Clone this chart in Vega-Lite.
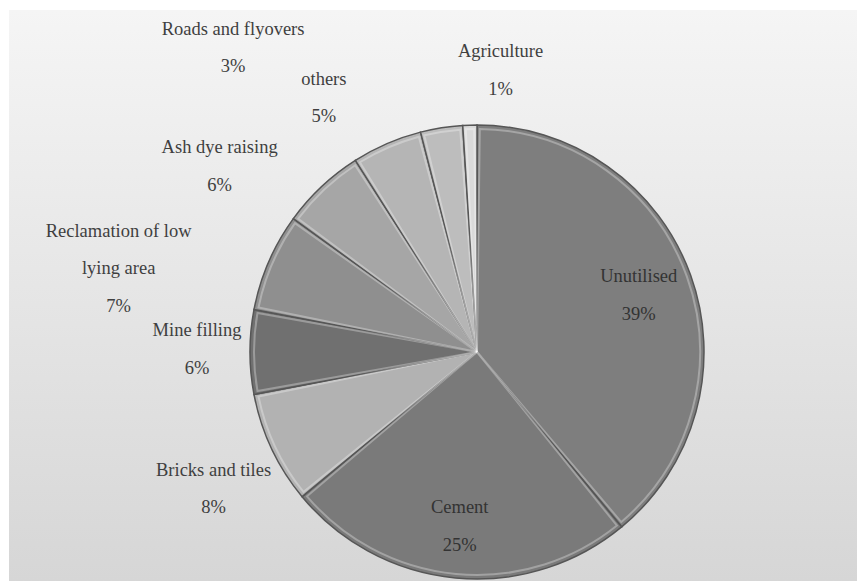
{
  "$schema": "https://vega.github.io/schema/vega-lite/v6.json",
  "width": 848,
  "height": 571,
  "autosize": {"type": "none"},
  "padding": {"left": 9, "top": 10, "right": 0, "bottom": 0},
  "background": "#ffffff",
  "config": {
    "view": {"stroke": null, "fill": "#e6e6e6"},
    "text": {"font": "Liberation Serif", "fontSize": 18.5, "fill": "#3f3f3f", "lineBreak": "\n", "lineHeight": 37.5, "align": "center", "baseline": "middle"}
  },
  "data": {
    "values": [
      {"category": "Unutilised", "value": 0.39},
      {"category": "Cement", "value": 0.25},
      {"category": "Bricks and tiles", "value": 0.08},
      {"category": "Mine filling", "value": 0.06},
      {"category": "Reclamation of low\nlying area", "value": 0.07},
      {"category": "Ash dye raising", "value": 0.06},
      {"category": "others", "value": 0.05},
      {"category": "Roads and flyovers", "value": 0.03},
      {"category": "Agriculture", "value": 0.01}
    ]
  },
  "transform": [{"window": [{"op": "row_number", "as": "rank"}]}],
  "layer": [
    {
      "data": {"values": [{"panel": "background"}]},
      "mark": {"type": "rect",
        "fill": {"gradient": "linear", "x1": 0, "y1": 0, "x2": 0, "y2": 1,
          "stops": [{"offset": 0, "color": "#f5f5f5"}, {"offset": 1, "color": "#d6d6d6"}]}},
      "encoding": {}
    },
    {
      "mark": {"type": "arc", "x": 468, "y": 342, "outerRadius": 227, "stroke": "#565656", "strokeWidth": 1.5},
      "encoding": {
        "theta": {"field": "value", "type": "quantitative", "stack": true},
        "order": {"field": "rank", "type": "quantitative"},
        "color": {"field": "category", "type": "nominal", "legend": null,
          "scale": {
            "domain": ["Unutilised", "Cement", "Bricks and tiles", "Mine filling", "Reclamation of low\nlying area", "Ash dye raising", "others", "Roads and flyovers", "Agriculture"],
            "range": ["#7e7e7e", "#7a7a7a", "#b2b2b2", "#707070", "#8f8f8f", "#a6a6a6", "#b5b5b5", "#bdbdbd", "#dadada"]
          }}
      }
    },
    {
      "mark": {"type": "arc", "x": 468, "y": 342, "outerRadius": 223, "padAngle": 0.025, "fill": "transparent", "stroke": "#ffffff", "strokeOpacity": 0.3, "strokeWidth": 2},
      "encoding": {
        "theta": {"field": "value", "type": "quantitative", "stack": true},
        "order": {"field": "rank", "type": "quantitative"},
        "detail": {"field": "category", "type": "nominal"}
      }
    },
    {
      "mark": {"type": "text", "font": "Liberation Serif", "x": 468, "y": 342, "radius": 173, "dy": -17, "dx": -1, "fill": "#333333",
        "text": {"expr": "(datum.category === 'Unutilised' || datum.category === 'Cement') ? datum.category + '\\n' + format(datum.value, '.0%') : ''"}},
      "encoding": {"theta": {"field": "value", "type": "quantitative", "stack": true}, "order": {"field": "rank", "type": "quantitative"}, "detail": {"field": "category", "type": "nominal"}}
    },
    {
      "mark": {"type": "text", "font": "Liberation Serif", "x": 468, "y": 342, "radius": 300, "dx": 8, "dy": -10,
        "text": {"expr": "datum.category === 'Bricks and tiles' ? datum.category + '\\n' + format(datum.value, '.0%') : ''"}},
      "encoding": {"theta": {"field": "value", "type": "quantitative", "stack": true}, "order": {"field": "rank", "type": "quantitative"}, "detail": {"field": "category", "type": "nominal"}}
    },
    {
      "mark": {"type": "text", "font": "Liberation Serif", "x": 468, "y": 342, "radius": 300, "dx": 20, "dy": -22,
        "text": {"expr": "datum.category === 'Mine filling' ? datum.category + '\\n' + format(datum.value, '.0%') : ''"}},
      "encoding": {"theta": {"field": "value", "type": "quantitative", "stack": true}, "order": {"field": "rank", "type": "quantitative"}, "detail": {"field": "category", "type": "nominal"}}
    },
    {
      "mark": {"type": "text", "font": "Liberation Serif", "x": 468, "y": 342, "radius": 300, "dx": -83, "dy": -2,
        "text": {"expr": "indexof(datum.category, 'Reclamation') === 0 ? datum.category + '\\n' + format(datum.value, '.0%') : ''"}},
      "encoding": {"theta": {"field": "value", "type": "quantitative", "stack": true}, "order": {"field": "rank", "type": "quantitative"}, "detail": {"field": "category", "type": "nominal"}}
    },
    {
      "mark": {"type": "text", "font": "Liberation Serif", "x": 468, "y": 342, "radius": 300, "dx": -52, "dy": 14,
        "text": {"expr": "datum.category === 'Ash dye raising' ? datum.category + '\\n' + format(datum.value, '.0%') : ''"}},
      "encoding": {"theta": {"field": "value", "type": "quantitative", "stack": true}, "order": {"field": "rank", "type": "quantitative"}, "detail": {"field": "category", "type": "nominal"}}
    },
    {
      "mark": {"type": "text", "font": "Liberation Serif", "x": 468, "y": 342, "radius": 300, "dx": -34, "dy": 2,
        "text": {"expr": "datum.category === 'others' ? datum.category + '\\n' + format(datum.value, '.0%') : ''"}},
      "encoding": {"theta": {"field": "value", "type": "quantitative", "stack": true}, "order": {"field": "rank", "type": "quantitative"}, "detail": {"field": "category", "type": "nominal"}}
    },
    {
      "mark": {"type": "text", "font": "Liberation Serif", "x": 468, "y": 342, "radius": 300, "dx": -197, "dy": -27,
        "text": {"expr": "datum.category === 'Roads and flyovers' ? datum.category + '\\n' + format(datum.value, '.0%') : ''"}},
      "encoding": {"theta": {"field": "value", "type": "quantitative", "stack": true}, "order": {"field": "rank", "type": "quantitative"}, "detail": {"field": "category", "type": "nominal"}}
    },
    {
      "mark": {"type": "text", "font": "Liberation Serif", "x": 468, "y": 342, "radius": 300, "dx": 33, "dy": -1,
        "text": {"expr": "datum.category === 'Agriculture' ? datum.category + '\\n' + format(datum.value, '.0%') : ''"}},
      "encoding": {"theta": {"field": "value", "type": "quantitative", "stack": true}, "order": {"field": "rank", "type": "quantitative"}, "detail": {"field": "category", "type": "nominal"}}
    }
  ]
}
